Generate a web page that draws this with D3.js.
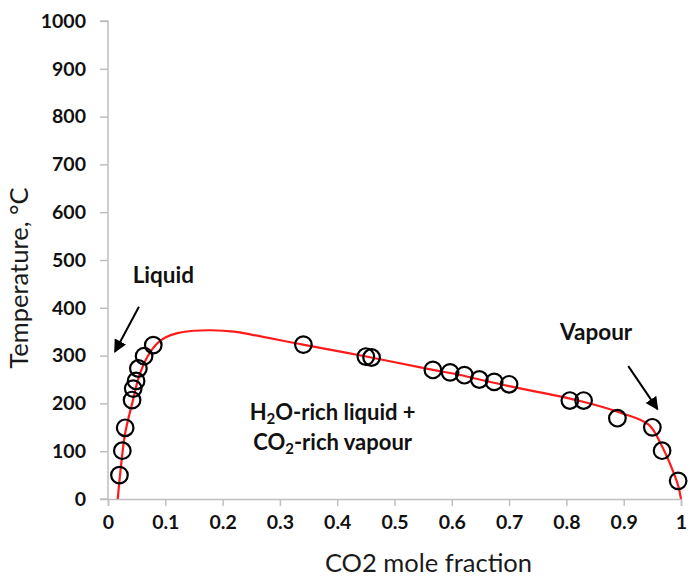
<!DOCTYPE html>
<html>
<head>
<meta charset="utf-8">
<script src="https://cdn.jsdelivr.net/npm/d3@7"></script>
<style>
  html, body { margin: 0; padding: 0; background: #fff; }
  svg { display: block; }
  text { font-family: Lato, "Open Sans", sans-serif; }
</style>
</head>
<body>
<svg id="chart" width="688" height="576"></svg>
<script>
// Measured H2O–CO2 phase compositions (CO2 mole fraction, temperature °C)
const sampleX = [0.020, 0.025, 0.030, 0.042, 0.044, 0.049, 0.053, 0.063, 0.079,
                 0.341, 0.450, 0.460, 0.567, 0.597, 0.622, 0.648, 0.674, 0.700,
                 0.806, 0.830, 0.889, 0.950, 0.967, 0.995];
const sampleT = [50, 101, 149, 207, 231, 247, 273, 299, 322,
                 323, 298, 296, 270, 265, 259, 250, 245, 240,
                 206, 206, 169, 150, 101, 38];

// Two-phase boundary (solvus) curve
const curveX = [0.017, 0.0226, 0.030, 0.043, 0.054, 0.069, 0.086, 0.100, 0.121, 0.150,
                0.180, 0.220, 0.250, 0.340, 0.455, 0.567, 0.600, 0.700, 0.817, 0.898,
                0.944, 0.967, 0.980, 0.995, 1.000];
const curveT = [0, 68, 138, 204, 256, 298, 326, 338, 347, 352,
                353, 350, 344, 323, 297, 270, 263, 236, 207, 179,
                155, 110, 76, 28, 0];

const xTicks = [0, 0.1, 0.2, 0.3, 0.4, 0.5, 0.6, 0.7, 0.8, 0.9, 1];
const xTickLabels = ["0", "0.1", "0.2", "0.3", "0.4", "0.5", "0.6", "0.7", "0.8", "0.9", "1"];
const yTicks = [0, 100, 200, 300, 400, 500, 600, 700, 800, 900, 1000];
const yTickLabels = ["0", "100", "200", "300", "400", "500", "600", "700", "800", "900", "1000"];

const xTitle = "CO2 mole fraction";
const yTitle = "Temperature, °C";

// Annotation anchors in data units
const arrowTails = [[0.054, 402], [0.908, 278]];
const arrowTips  = [[0.012, 308], [0.959, 188]];
const phaseLabels = ["Liquid", "Vapour"];
const phaseLabelAt = [[0.043, 451], [0.789, 333]];

const svg = d3.select("#chart");
const plotLeft = 108, plotRight = 681, plotTop = 21, plotBottom = 499;

const x = d3.scaleLinear().domain([0, 1]).range([plotLeft, plotRight]);
const y = d3.scaleLinear().domain([0, 1000]).range([plotBottom, plotTop]);

svg.append("rect").attr("width", 688).attr("height", 576).attr("fill", "#fff");

// Axes
const axisColor = "#bfbfbf";
const xAxis = d3.axisBottom(x).tickValues(xTicks)
  .tickFormat((d, i) => xTickLabels[i]).tickSize(7).tickPadding(9);
const yAxis = d3.axisLeft(y).tickValues(yTicks)
  .tickFormat((d, i) => yTickLabels[i]).tickSize(8).tickPadding(14);

const gx = svg.append("g").attr("transform", `translate(0,${plotBottom})`).call(xAxis);
const gy = svg.append("g").attr("transform", `translate(${plotLeft},0)`).call(yAxis);
[gx, gy].forEach(g => {
  g.select(".domain").attr("stroke", axisColor).attr("stroke-width", 1.5);
  g.selectAll(".tick line").attr("stroke", axisColor).attr("stroke-width", 1.5);
  g.selectAll(".tick text")
    .attr("fill", "#111")
    .style("font-family", "Lato, sans-serif")
    .style("font-weight", "700")
    .style("font-size", "19.5px");
});
gy.select(".domain").attr("d", `M-8,${plotTop}H0V${plotBottom}H-8`);

// Axis titles
svg.append("text")
  .attr("x", x(0.5) + 34).attr("y", 572)
  .attr("text-anchor", "middle")
  .attr("fill", "#1a1a1a")
  .style("font-size", "25.5px")
  .text(xTitle);

svg.append("text")
  .attr("transform", `translate(28,${278}) rotate(-90)`)
  .attr("text-anchor", "middle")
  .attr("fill", "#1a1a1a")
  .style("font-size", "25.5px")
  .text(yTitle);

// Boundary curve
const line = d3.line()
  .x((d, i) => x(curveX[i]))
  .y((d, i) => y(curveT[i]))
  .curve(d3.curveCatmullRom.alpha(0.5));

svg.append("path")
  .datum(curveX)
  .attr("d", line)
  .attr("fill", "none")
  .attr("stroke", "#ff1a1a")
  .attr("stroke-width", 2.2);

// Measured points
svg.append("g").selectAll("circle")
  .data(sampleX)
  .join("circle")
  .attr("cx", d => x(d))
  .attr("cy", (d, i) => y(sampleT[i]))
  .attr("r", 8.3)
  .attr("fill", "none")
  .attr("stroke", "#000")
  .attr("stroke-width", 2.2);

// Arrows
const defs = svg.append("defs");
defs.append("marker")
  .attr("id", "head")
  .attr("viewBox", "0 0 10 10")
  .attr("refX", 9).attr("refY", 5)
  .attr("markerWidth", 6.5).attr("markerHeight", 6.5)
  .attr("markerUnits", "strokeWidth")
  .attr("orient", "auto")
  .append("path")
  .attr("d", "M0,0L10,5L0,10Z")
  .attr("fill", "#000");

svg.append("g").selectAll("line")
  .data(arrowTails)
  .join("line")
  .attr("x1", d => x(d[0])).attr("y1", d => y(d[1]))
  .attr("x2", (d, i) => x(arrowTips[i][0])).attr("y2", (d, i) => y(arrowTips[i][1]))
  .attr("stroke", "#000")
  .attr("stroke-width", 2)
  .attr("marker-end", "url(#head)");

// Phase labels
svg.append("g").selectAll("text")
  .data(phaseLabels)
  .join("text")
  .attr("x", (d, i) => x(phaseLabelAt[i][0]))
  .attr("y", (d, i) => y(phaseLabelAt[i][1]))
  .attr("fill", "#111")
  .style("font-weight", "700")
  .style("font-size", "22.5px")
  .text(d => d);

// Two-phase field label with subscripts
const field = svg.append("text")
  .attr("text-anchor", "middle")
  .attr("fill", "#111")
  .style("font-weight", "700")
  .style("font-size", "22px");
const cx = x(0.392);
const l1 = field.append("tspan").attr("x", cx).attr("y", y(165));
l1.append("tspan").text("H");
l1.append("tspan").attr("dy", 4).style("font-size", "15px").text("2");
l1.append("tspan").attr("dy", -4).text("O-rich liquid +");
const l2 = field.append("tspan").attr("x", cx).attr("y", y(102));
l2.append("tspan").text("CO");
l2.append("tspan").attr("dy", 4).style("font-size", "15px").text("2");
l2.append("tspan").attr("dy", -4).text("-rich vapour");
</script>
</body>
</html>
